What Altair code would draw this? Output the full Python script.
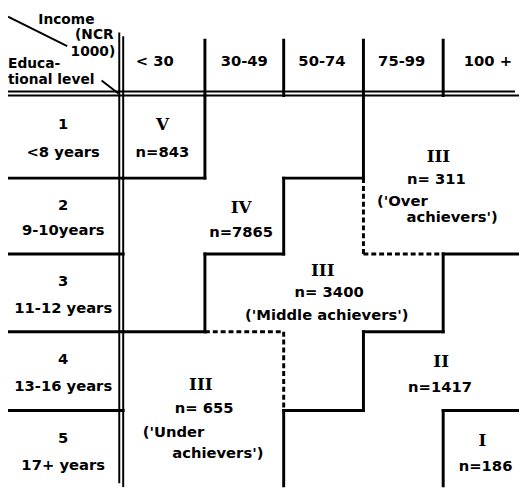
import altair as alt
import pandas as pd

# ---------------- data ----------------
income_labels = ["< 30", "30-49", "50-74", "75-99", "100 +"]
edu_numbers = ["1", "2", "3", "4", "5"]
edu_years = ["<8 years", "9-10years", "11-12 years", "13-16 years", "17+  years"]

# group membership of each cell: rows = educational level 1..5, cols = income class
cell_group = [
    ["V", "IV", "IV", "III-O", "III-O"],
    ["IV", "IV", "III-M", "III-O", "III-O"],
    ["IV", "III-M", "III-M", "III-M", "II"],
    ["III-U", "III-U", "III-M", "II", "II"],
    ["III-U", "III-U", "II", "II", "I"],
]
group_keys = ["V", "IV", "III-O", "III-M", "III-U", "II", "I"]
group_roman = ["V", "IV", "III", "III", "III", "II", "I"]
group_n = ["n=843", "n=7865", "n= 311", "n= 3400", "n= 655", "n=1417", "n=186"]
group_desc = [[], [], ["('Over", "achievers')"], ["('Middle achievers')"], ["('Under", "achievers')"], [], []]

# label anchors in grid units (col, row)
roman_pos = [(0.48, 0.36), (1.46, 1.40), (3.94, 0.74), (2.49, 2.215), (0.95, 3.675), (3.975, 3.39), (4.49, 4.385)]
n_pos = [(0.48, 0.69), (1.46, 1.714), (3.915, 1.013), (2.57, 2.49), (0.99, 3.975), (3.96, 3.70), (4.53, 4.71)]
desc_pos = [[], [], [(3.17, 1.30, "left"), (3.54, 1.52, "left")], [(2.54, 2.785, "center")],
            [(0.24, 4.28, "left"), (0.60, 4.54, "left")], [], []]
header_x = [0.386, 1.5, 2.48, 3.48, 4.56]

XMIN, XMAX = -1.44, 4.948
YMIN, YMAX = -1.0625, 4.975
W, H = 519, 483

# ---------------- tables ----------------
segs = []
for i in range(5):
    for j in range(4):
        a, b = cell_group[i][j], cell_group[i][j + 1]
        if a != b:
            segs.append(dict(x=j + 1, x2=j + 1, y=i, y2=i + 1,
                             dashed=a.startswith("III") and b.startswith("III")))
for i in range(4):
    for j in range(5):
        a, b = cell_group[i][j], cell_group[i + 1][j]
        if a != b:
            segs.append(dict(x=j, x2=j + 1, y=i + 1, y2=i + 1,
                             dashed=a.startswith("III") and b.startswith("III")))
for j in range(1, 5):
    segs.append(dict(x=j, x2=j, y=-0.7, y2=0, dashed=False))
for i in range(1, 5):
    segs.append(dict(x=XMIN, x2=0, y=i, y2=i, dashed=False))
seg_df = pd.DataFrame(segs)
solid_df = seg_df[~seg_df.dashed]
dash_df = seg_df[seg_df.dashed]

double_df = pd.DataFrame([
    dict(x=0, x2=0, y=-0.75, y2=YMAX),
    dict(x=XMIN, x2=XMAX, y=0, y2=0),
])
diag_df = pd.DataFrame([
    dict(x=-1.44, x2=-0.70, y=-1.0, y2=-0.625),
    dict(x=-0.27, x2=-0.06, y=-0.19, y2=-0.025),
])

roman_rows, sans_center, sans_left = [], [], []
corner_center, corner_left, corner_right = [], [], []
for k, g in enumerate(group_keys):
    roman_rows.append(dict(t=group_roman[k], x=roman_pos[k][0], y=roman_pos[k][1]))
    sans_center.append(dict(t=group_n[k], x=n_pos[k][0], y=n_pos[k][1]))
    for line, (px, py, al) in zip(group_desc[k], desc_pos[k]):
        (sans_left if al == "left" else sans_center).append(dict(t=line, x=px, y=py))
for i in range(5):
    sans_center.append(dict(t=edu_numbers[i], x=-0.75, y=i + 0.35))
    sans_center.append(dict(t=edu_years[i], x=-0.75, y=i + 0.69))
for j in range(5):
    sans_center.append(dict(t=income_labels[j], x=header_x[j], y=-0.44))
corner_center.append(dict(t="Income", x=-0.71, y=-0.9625))
corner_right.append(dict(t="(NCR", x=-0.12, y=-0.7625))
corner_right.append(dict(t="1000)", x=-0.10, y=-0.55))
corner_left.append(dict(t="Educa-", x=-1.44, y=-0.40))
corner_left.append(dict(t="tional level", x=-1.44, y=-0.20))

# ---------------- encodings ----------------
xs = alt.Scale(domain=[XMIN, 0, 1, 2, 3, 4, XMAX], range=[0, 117, 200, 280, 361, 442, W],
               nice=False, zero=False)
ys = alt.Scale(domain=[YMIN, 0, 1, 2, 3, 4, YMAX], range=[0, 85, 169, 246, 325, 405, H],
               nice=False, zero=False)
X = alt.X("x:Q", scale=xs, axis=None)
Y = alt.Y("y:Q", scale=ys, axis=None)


def rules(df, **kw):
    return alt.Chart(df).mark_rule(color="black", clip=True, **kw).encode(
        x=X, y=Y, x2="x2:Q", y2="y2:Q")


def texts(rows, align, font, size, weight="normal"):
    return alt.Chart(pd.DataFrame(rows)).mark_text(
        align=align, baseline="middle", font=font, fontSize=size,
        fontWeight=weight, color="black").encode(x=X, y=Y, text="t:N")


FONT = "DejaVu Sans"
layers = [
    rules(solid_df, strokeWidth=3, strokeCap="square"),
    rules(dash_df, strokeWidth=3, strokeDash=[5, 3]),
    rules(double_df, strokeWidth=2),
    rules(double_df, strokeWidth=2, xOffset=-4, x2Offset=-4, yOffset=-4, y2Offset=-4),
    rules(diag_df, strokeWidth=2),
    texts(roman_rows, "center", "DejaVu Serif", 17, "bold"),
    texts(sans_center, "center", FONT, 15, "bold"),
    texts(sans_left, "left", FONT, 15, "bold"),
    texts(corner_center, "center", FONT, 14, "bold"),
    texts(corner_left, "left", FONT, 14, "bold"),
    texts(corner_right, "right", FONT, 14, "bold"),
]

chart = alt.layer(*layers).properties(
    width=W, height=H, padding=0, background="white"
).configure_view(stroke=None)

chart.save("out.html", embed_options={"renderer": "svg", "actions": False})
